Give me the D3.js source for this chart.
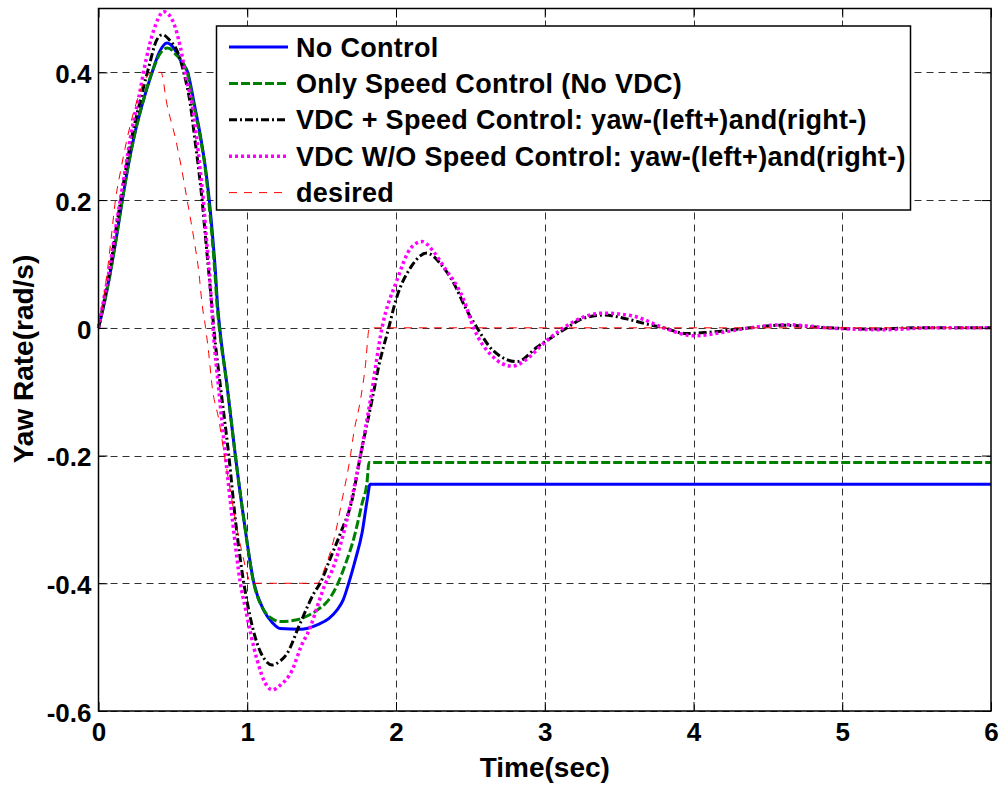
<!DOCTYPE html>
<html><head><meta charset="utf-8">
<script src="https://cdn.jsdelivr.net/npm/d3@7"></script>
<style>
body{margin:0;background:#fff}
svg{display:block}
text{font-family:"Liberation Sans",Arial,sans-serif;font-weight:bold;fill:#000}
</style>
</head><body>
<svg id="chart" width="1003" height="785"></svg>
<script>
// ---------- data ----------
const xTicks = [0, 1, 2, 3, 4, 5, 6];
const xTickLabels = ["0", "1", "2", "3", "4", "5", "6"];
const yTicks = [-0.6, -0.4, -0.2, 0, 0.2, 0.4];
const yTickLabels = ["-0.6", "-0.4", "-0.2", "0", "0.2", "0.4"];
const seriesNames = [
  "No Control",
  "Only Speed Control (No VDC)",
  "VDC + Speed Control: yaw-(left+)and(right-)",
  "VDC W/O Speed Control: yaw-(left+)and(right-)",
  "desired"
];
// [time (s), yaw rate (rad/s)]
const noControl = [[0,0],[0.04,0.04],[0.08,0.088],[0.12,0.141],[0.159,0.199],[0.193,0.245],[0.237,0.297],[0.293,0.349],[0.36,0.4],[0.41,0.432],[0.46,0.446],[0.51,0.437],[0.56,0.415],[0.6,0.4],[0.645,0.349],[0.688,0.297],[0.722,0.245],[0.745,0.199],[0.768,0.141],[0.786,0.088],[0.80,0.036],[0.815,0],[0.865,-0.092],[0.92,-0.2],[0.977,-0.3],[1.045,-0.4],[1.11,-0.442],[1.17,-0.462],[1.22,-0.471],[1.36,-0.472],[1.47,-0.465],[1.55,-0.455],[1.603,-0.442],[1.645,-0.426],[1.682,-0.4],[1.727,-0.363],[1.772,-0.321],[1.806,-0.27],[1.826,-0.245],[3,-0.245],[6,-0.245]];
const speedOnly = [[0,0],[0.04,0.04],[0.081,0.088],[0.119,0.141],[0.159,0.199],[0.193,0.245],[0.237,0.297],[0.293,0.349],[0.36,0.4],[0.41,0.428],[0.465,0.438],[0.52,0.428],[0.596,0.4],[0.64,0.349],[0.685,0.297],[0.72,0.245],[0.741,0.199],[0.764,0.141],[0.782,0.088],[0.797,0.036],[0.812,0],[0.865,-0.092],[0.92,-0.2],[0.977,-0.3],[1.044,-0.4],[1.111,-0.442],[1.17,-0.456],[1.223,-0.46],[1.335,-0.457],[1.47,-0.442],[1.54,-0.428],[1.6,-0.405],[1.66,-0.37],[1.716,-0.33],[1.772,-0.275],[1.806,-0.24],[1.818,-0.211],[3,-0.211],[6,-0.211]];
const vdcSpeed = [[0,0],[0.04,0.045],[0.08,0.095],[0.115,0.15],[0.15,0.2],[0.185,0.25],[0.225,0.3],[0.28,0.355],[0.34,0.41],[0.39,0.45],[0.43,0.459],[0.48,0.45],[0.535,0.43],[0.573,0.4],[0.618,0.349],[0.647,0.297],[0.675,0.245],[0.697,0.199],[0.72,0.14],[0.741,0.088],[0.76,0.04],[0.775,0],[0.82,-0.092],[0.876,-0.2],[0.92,-0.3],[0.977,-0.4],[1.01,-0.442],[1.066,-0.494],[1.12,-0.52],[1.167,-0.528],[1.22,-0.522],[1.268,-0.51],[1.346,-0.468],[1.45,-0.415],[1.49,-0.4],[1.56,-0.36],[1.626,-0.322],[1.705,-0.269],[1.761,-0.2],[1.839,-0.113],[1.884,-0.06],[1.951,0],[2.0,0.044],[2.1,0.095],[2.208,0.117],[2.3,0.1],[2.388,0.07],[2.47,0.03],[2.545,0],[2.65,-0.035],[2.813,-0.053],[2.95,-0.03],[3.15,0],[3.25,0.014],[3.396,0.02],[3.55,0.014],[3.7,0.005],[3.8,0],[3.95,-0.009],[4.1,-0.007],[4.38,0],[4.6,0.004],[4.9,0],[5.2,-0.002],[5.5,0],[6,0]];
const vdcNoSpeed = [[0,0],[0.04,0.05],[0.08,0.1],[0.115,0.155],[0.15,0.205],[0.185,0.255],[0.22,0.305],[0.27,0.36],[0.32,0.42],[0.37,0.465],[0.44,0.495],[0.5,0.48],[0.55,0.44],[0.59,0.39],[0.63,0.349],[0.66,0.297],[0.685,0.245],[0.705,0.199],[0.725,0.14],[0.745,0.088],[0.76,0.036],[0.77,0],[0.81,-0.1],[0.853,-0.2],[0.9,-0.3],[0.954,-0.4],[0.99,-0.442],[1.066,-0.52],[1.12,-0.556],[1.167,-0.567],[1.22,-0.56],[1.302,-0.536],[1.36,-0.5],[1.425,-0.468],[1.48,-0.43],[1.526,-0.4],[1.57,-0.38],[1.626,-0.34],[1.7,-0.27],[1.761,-0.2],[1.828,-0.113],[1.906,0],[2.007,0.075],[2.1,0.125],[2.175,0.135],[2.25,0.12],[2.321,0.096],[2.455,0.044],[2.522,0],[2.65,-0.045],[2.78,-0.06],[2.9,-0.045],[2.97,-0.029],[3.127,0],[3.25,0.016],[3.396,0.023],[3.6,0.018],[3.8,0],[4.0,-0.0125],[4.225,-0.006],[4.38,0],[4.628,0.005],[4.9,0],[5.28,-0.003],[5.6,0],[6,0]];
const desired = [[0,0],[0.03,0.04],[0.06,0.09],[0.085,0.14],[0.114,0.2],[0.148,0.245],[0.193,0.297],[0.25,0.349],[0.30,0.382],[0.33,0.395],[0.36,0.4],[0.42,0.4],[0.46,0.35],[0.517,0.297],[0.562,0.245],[0.596,0.2],[0.64,0.141],[0.674,0.088],[0.697,0.036],[0.72,0],[0.741,-0.04],[0.764,-0.092],[0.809,-0.144],[0.847,-0.2],[0.882,-0.249],[0.92,-0.3],[0.966,-0.353],[1.03,-0.4],[1.47,-0.4],[1.525,-0.374],[1.593,-0.321],[1.638,-0.269],[1.694,-0.2],[1.716,-0.165],[1.761,-0.113],[1.794,-0.06],[1.821,0],[3,0],[6,0]];

// ---------- layout ----------
const svg = d3.select("#chart");
const L = 98.5, R = 991, T = 8.5, B = 711;
const x = d3.scaleLinear().domain([0, 6]).range([L, R]);
const y = d3.scaleLinear().domain([-0.6, 0.5]).range([B, T]);

// grid
const grid = svg.append("g").attr("stroke", "#000").attr("stroke-width", 1)
  .attr("stroke-dasharray", "7,5").attr("opacity", 0.8);
grid.selectAll("line.gx").data(xTicks.filter(d => d > 0 && d < 6)).enter().append("line")
  .attr("x1", d => Math.round(x(d)) + 0.5).attr("x2", d => Math.round(x(d)) + 0.5)
  .attr("y1", T).attr("y2", B);
grid.selectAll("line.gy").data(yTicks).enter().append("line")
  .attr("y1", d => Math.round(y(d)) + 0.5).attr("y2", d => Math.round(y(d)) + 0.5)
  .attr("x1", L).attr("x2", R);

// series
const series = [
  {name: seriesNames[0], data: noControl, color: "#0000ff", w: 3, dash: null},
  {name: seriesNames[1], data: speedOnly, color: "#008000", w: 3, dash: "9,3"},
  {name: seriesNames[2], data: vdcSpeed, color: "#000000", w: 3, dash: "8,3,2,3"},
  {name: seriesNames[3], data: vdcNoSpeed, color: "#ff00ff", w: 3.5, dash: "3,3"},
  {name: seriesNames[4], data: desired, color: "#ff0000", w: 1, dash: "8,7"}
];
const line = d3.line().x(d => x(d[0])).y(d => y(d[1])).curve(d3.curveMonotoneX);
svg.append("g").selectAll("path").data(series).enter().append("path")
  .attr("d", d => line(d.data)).attr("fill", "none")
  .attr("stroke", d => d.color).attr("stroke-width", d => d.w)
  .attr("stroke-dasharray", d => d.dash);

// frame
svg.append("rect").attr("x", L).attr("y", T).attr("width", R - L).attr("height", B - T)
  .attr("fill", "none").attr("stroke", "#000").attr("stroke-width", 1.5);

// axes with inward ticks
const tl = 9;
svg.append("g").attr("transform", `translate(0,${B})`)
  .call(d3.axisBottom(x).tickValues(xTicks).tickFormat((d, i) => xTickLabels[i]).tickSizeInner(-tl).tickSizeOuter(0).tickPadding(12))
  .call(g => g.select(".domain").remove())
  .call(g => g.selectAll("text").attr("font-size", 26).attr("font-family", "Liberation Sans, Arial, sans-serif").attr("font-weight", "bold"));
svg.append("g").attr("transform", `translate(0,${T})`)
  .call(d3.axisTop(x).tickValues(xTicks).tickFormat("").tickSizeInner(-tl).tickSizeOuter(0))
  .call(g => g.select(".domain").remove());
svg.append("g").attr("transform", `translate(${L},0)`)
  .call(d3.axisLeft(y).tickValues(yTicks).tickFormat((d, i) => yTickLabels[i]).tickSizeInner(-tl).tickSizeOuter(0).tickPadding(7))
  .call(g => g.select(".domain").remove())
  .call(g => g.selectAll("text").attr("font-size", 26).attr("font-family", "Liberation Sans, Arial, sans-serif").attr("font-weight", "bold").attr("dy", "0.4em"));
svg.append("g").attr("transform", `translate(${R},0)`)
  .call(d3.axisRight(y).tickValues(yTicks).tickFormat("").tickSizeInner(-tl).tickSizeOuter(0))
  .call(g => g.select(".domain").remove());

// axis titles
svg.append("text").attr("x", (L + R) / 2).attr("y", 777).attr("text-anchor", "middle")
  .attr("font-size", 28).text("Time(sec)");
svg.append("text").attr("transform", "translate(33,359) rotate(-90)").attr("text-anchor", "middle")
  .attr("font-size", 28).text("Yaw Rate(rad/s)");

// legend
const lg = svg.append("g");
lg.append("rect").attr("x", 216.5).attr("y", 26).attr("width", 694).attr("height", 184)
  .attr("fill", "#fff").attr("stroke", "#000").attr("stroke-width", 1.5);
const rowY = i => 47 + i * 36.4;
series.forEach((s, i) => {
  lg.append("line").attr("x1", 229).attr("x2", 288).attr("y1", rowY(i)).attr("y2", rowY(i))
    .attr("stroke", s.color).attr("stroke-width", s.w).attr("stroke-dasharray", s.dash);
  lg.append("text").attr("x", 296).attr("y", rowY(i) + 9.5).attr("font-size", 27)
    .attr("letter-spacing", 0.3).text(s.name);
});
</script>
</body></html>
